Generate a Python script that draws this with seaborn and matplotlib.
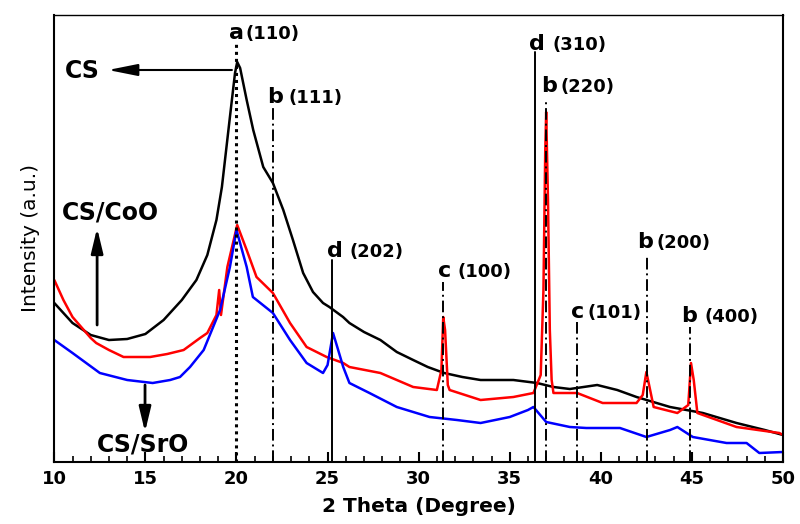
import numpy as np
import pandas as pd
import seaborn as sns
import matplotlib
matplotlib.use('Agg')
import matplotlib.pyplot as plt

sns.set_theme(style='ticks')
plt.rcParams['font.family'] = ['DejaVu Sans']
plt.rcParams['text.color'] = 'black'
plt.rcParams['axes.labelcolor'] = 'black'
plt.rcParams['xtick.color'] = 'black'

# XRD patterns (intensity in arbitrary units)
cs_x = [10, 11, 12, 13, 14, 15, 16, 17, 17.8, 18.4, 18.9, 19.2, 19.64, 19.92, 20.04, 20.2,
        20.56, 20.92, 21.47, 22.0, 22.57, 23.1, 23.66, 24.2, 24.75, 25.1, 25.85, 26.2, 27.0,
        27.9, 28.8, 29.7, 30.5, 31.4, 32.4, 33.4, 35.2, 36.5, 37.4, 38.3, 39.8, 40.9, 41.96,
        43.8, 45.6, 47.45, 49.0, 50]
cs_y = [159, 139, 127, 122, 123, 128, 142, 162, 182, 207, 242, 275, 345, 389, 400, 394,
        362, 332, 295, 279, 252, 222, 189, 170, 159, 155, 145, 139, 130,
        122, 110, 102, 95, 89, 85, 82, 82, 79, 75, 73, 77, 72, 65,
        55, 49, 39, 32, 27]

coo_x = [10, 10.5, 11, 12, 12.3, 13, 13.8, 15.26, 16.2, 17.1, 18.0, 18.4, 18.9, 19.05, 19.15,
         19.5, 20.04, 20.56, 21.1, 22.0, 22.94, 23.85, 24.95, 25.86, 26.2, 27.9, 29.7, 31.0,
         31.25, 31.35, 31.45, 31.6, 31.7, 33.4, 35.2, 36.3, 36.7, 36.85, 36.95, 37.0, 37.1,
         37.2, 37.3, 37.4, 38.7, 40.1, 41.96, 42.3, 42.5, 42.65, 42.9, 44.2, 44.8, 44.95,
         45.1, 45.3, 47.45, 49.8, 50]
coo_y = [182, 162, 145, 124, 119, 112, 105, 105, 108, 112, 124, 129, 147, 172, 147,
         195, 237, 212, 185, 169, 139, 115, 105, 99, 95, 89, 75, 72,
         92, 145, 132, 77, 72, 62, 65, 69, 87, 172, 312, 350, 262,
         132, 82, 69, 69, 59, 59, 67, 90, 77, 55, 49, 57, 99,
         82, 49, 35, 29, 27]

sro_x = [10, 11, 12.5, 14.0, 15.4, 16.36, 16.9, 17.45, 18.2, 19.1, 19.64, 20.0, 20.56, 20.9,
         22.0, 22.94, 23.85, 24.75, 25.0, 25.3, 25.5, 25.86, 26.2, 27.3, 28.8, 30.6, 32.1,
         33.4, 35.0, 36.0, 36.3, 37.0, 38.3, 39.2, 41.05, 42.5, 43.8, 44.2, 45.05, 46.9,
         48.0, 48.7, 50]
sro_y = [122, 109, 89, 82, 79, 82, 85, 95, 112, 152, 195, 232, 195, 165,
         149, 122, 99, 89, 97, 129, 117, 95, 79, 69, 55, 45, 42,
         39, 45, 52, 55, 40, 35, 34, 34, 25, 32, 35, 25, 19,
         19, 9, 10]

series = [('CS', cs_x, cs_y, 'black'),
          ('CS/CoO', coo_x, coo_y, 'red'),
          ('CS/SrO', sro_x, sro_y, 'blue')]

# reflection markers
peak_pos = [20.0, 22.0, 25.27, 31.35, 36.38, 37.0, 38.68, 42.52, 44.9]
peak_top = [420, 357, 202, 180, 410, 362, 142, 205, 135]
peak_phase = ['a', 'b', 'd', 'c', 'd', 'b', 'c', 'b', 'b']
peak_hkl = ['(110)', '(111)', '(202)', '(100)', '(310)', '(220)', '(101)', '(200)', '(400)']
# label anchors: letter centre x, hkl left x, baseline y
lab_x = [20.0, 22.14, 25.38, 31.42, 36.47, 37.18, 38.72, 42.42, 44.86]
hkl_x = [20.47, 22.83, 26.23, 32.16, 37.37, 37.76, 39.29, 43.08, 45.71]
lab_y = [423, 359, 205, 185, 412, 370, 144, 214, 140]
styles = {'a': (0, (1, 1.3)), 'b': (0, (6, 2, 1, 2)), 'c': (0, (6, 2, 1, 2)), 'd': '-'}

fig = plt.figure(figsize=(8, 5.24), dpi=100)
ax = fig.add_axes([54.3 / 800, 62 / 524, (783 - 54.3) / 800, (462 - 15) / 524])

for name, xs, ys, col in series:
    df = pd.DataFrame({'x': xs, 'y': ys})
    sns.lineplot(data=df, x='x', y='y', color=col, lw=1.8, ax=ax,
                 estimator=None, sort=False)

for p, top, ph, hkl, lx, hx, ly in zip(peak_pos, peak_top, peak_phase, peak_hkl,
                                        lab_x, hkl_x, lab_y):
    lw = 2.2 if ph == 'a' else 1.4
    ax.plot([p, p], [0, top], color='black', lw=lw, ls=styles[ph], zorder=5)
    ax.text(lx, ly, ph, fontsize=16, fontweight='bold', ha='center', va='baseline')
    ax.text(hx, ly, hkl, fontsize=13, fontweight='bold', ha='left', va='baseline')

# sample labels with arrows
ax.text(10.59, 384, 'CS', fontsize=17, fontweight='bold', va='baseline')
ax.annotate('', xy=(12.95, 392), xytext=(19.75, 392),
            arrowprops=dict(arrowstyle='-|>,head_length=0.9,head_width=0.18',
                            color='black', lw=1.5, mutation_scale=20, shrinkA=0, shrinkB=0))
ax.text(10.42, 242, 'CS/CoO', fontsize=17, fontweight='bold', va='baseline')
ax.annotate('', xy=(12.35, 234), xytext=(12.35, 137),
            arrowprops=dict(arrowstyle='-|>,head_length=0.75,head_width=0.18',
                            color='black', lw=2, mutation_scale=20, shrinkA=0, shrinkB=0))
ax.text(12.35, 10, 'CS/SrO', fontsize=17, fontweight='bold', va='baseline')
ax.annotate('', xy=(14.98, 30), xytext=(14.98, 77),
            arrowprops=dict(arrowstyle='-|>,head_length=0.75,head_width=0.18',
                            color='black', lw=2, mutation_scale=20, shrinkA=0, shrinkB=0))

ax.set_xlim(10, 50)
ax.set_ylim(0, 447)
ax.set_xticks(np.arange(10, 51, 5))
ax.set_xticks(np.arange(10, 51, 1), minor=True)
ax.set_yticks([])
ax.tick_params(axis='x', which='major', direction='in', length=7, width=1.5,
               labelsize=13, pad=6, top=False)
ax.tick_params(axis='x', which='minor', direction='in', length=4, width=1.2, top=False)
for lab in ax.get_xticklabels():
    lab.set_fontweight('bold')
for s in ax.spines.values():
    s.set_linewidth(1.5)
    s.set_color('black')
ax.spines['top'].set_linewidth(1.0)

ax.set_xlabel('2 Theta (Degree)', fontsize=14.5, fontweight='bold', labelpad=6)
ax.set_ylabel('Intensity (a.u.)', fontsize=14.5, fontweight='normal', labelpad=10)

fig.savefig('out.png', dpi=100)
